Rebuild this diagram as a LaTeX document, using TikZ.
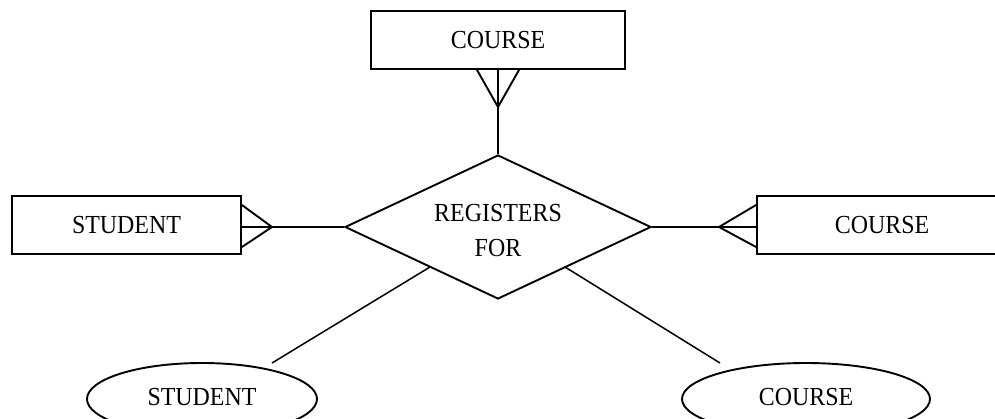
\documentclass[tikz,border=0pt]{standalone}
\usepackage{fontspec}
\setmainfont[FakeStretch=0.92]{Liberation Serif}
\usetikzlibrary{shapes.geometric}
\begin{document}
\begin{tikzpicture}[x=1pt,y=-1pt,
  every node/.style={font=\fontsize{26}{35}\selectfont},
  ln/.style={line width=1.9pt,line cap=butt,line join=miter},
  entity/.style={ln,draw,rectangle,minimum height=58pt,inner sep=0pt},
  rel/.style={ln,draw,diamond,minimum width=306pt,minimum height=144pt,inner sep=0pt,align=center,aspect=2.125},
  attr/.style={ln,draw,ellipse,inner sep=0pt},
  conn/.style={line width=1.5pt}]
\useasboundingbox (0,0) rectangle (995,418);
% entities
\node[entity,minimum width=254pt] (ctop) at (498,40) {COURSE};
\node[entity,minimum width=229pt] (stu) at (126.5,225) {STUDENT};
\node[entity,minimum width=250pt] (cright) at (882,225) {COURSE};
% relationship
\node[rel] (reg) at (498,227) {};
\node (regtxt) at (498,230.5) [align=center] {REGISTERS\\FOR};
% attributes
\node[attr,minimum width=230pt,minimum height=72pt] (astu) at (202,399) {};
\node (astutxt) at (202,397) {STUDENT};
\node[attr,minimum width=248pt,minimum height=72pt] (acou) at (806,399) {};
\node (acoutxt) at (806,397) {COURSE};
% top connector with crow's foot
\coordinate (tA) at (498,107);
\draw[ln] (ctop.south) -- (reg.north);
\draw[ln] (ctop.south -| 477,0) -- (tA) -- (ctop.south -| 519,0);
% left connector
\coordinate (lA) at (272,227);
\draw[ln] (stu.east |- lA) -- (reg.west);
\draw[ln] (stu.east |- 0,205) -- (lA) -- (stu.east |- 0,247);
% right connector
\coordinate (rA) at (719,227);
\draw[ln] (reg.east) -- (cright.west |- rA);
\draw[ln] (cright.west |- 0,205) -- (rA) -- (cright.west |- 0,247);
% attribute connectors
\coordinate (bl) at (430,267);
\coordinate (br) at (565,267);
\draw[conn] (bl) -- (272,363) coordinate (astuTop);
\draw[conn] (br) -- (720,363) coordinate (acouTop);
\end{tikzpicture}
\end{document}
